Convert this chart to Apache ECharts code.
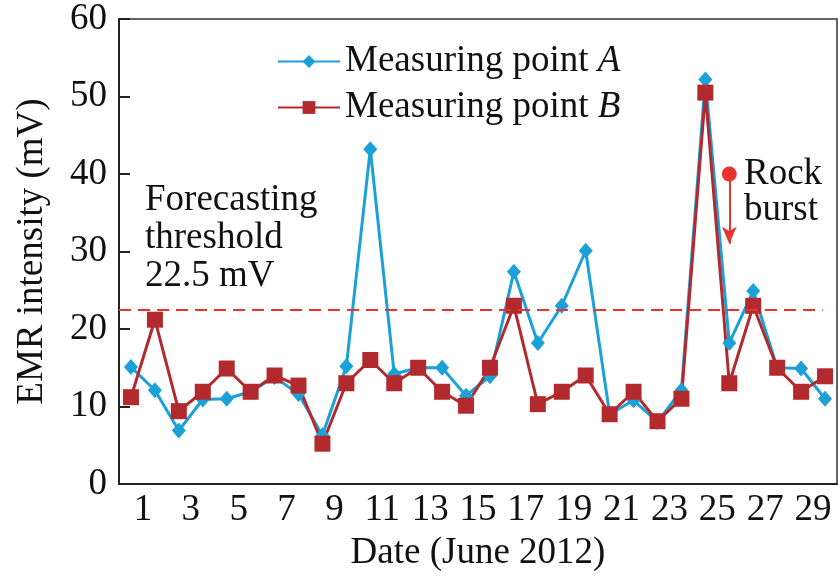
<!DOCTYPE html>
<html>
<head>
<meta charset="utf-8">
<script src="https://cdn.jsdelivr.net/npm/echarts@6/dist/echarts.min.js"></script>
<style>
  html, body { margin: 0; padding: 0; background: #fff; }
  #chart { width: 838px; height: 577px; }
</style>
</head>
<body>
<div id="chart"></div>
<script>
// EMR readings, June 2012 (one value per day)
const days = [1, 2, 3, 4, 5, 6, 7, 8, 9, 10, 11, 12, 13, 14, 15,
  16, 17, 18, 19, 20, 21, 22, 23, 24, 25, 26, 27, 28, 29, 30]
const pointA = [15.1, 12.1, 6.9, 10.9, 11.0, 11.9, 13.8, 11.6, 6.3, 15.2, 43.2, 14.2, 15.0, 15.0, 11.4,
  13.9, 27.4, 18.2, 23.0, 30.1, 9.0, 10.8, 8.0, 12.1, 52.2, 18.2, 24.9, 15.0, 14.9, 11.0]
const pointB = [11.2, 21.2, 9.4, 11.9, 14.9, 11.9, 14.0, 12.7, 5.2, 13.0, 16.0, 13.0, 15.0, 11.9, 10.1,
  15.0, 23.0, 10.3, 11.9, 14.0, 9.0, 11.9, 8.1, 11.0, 50.5, 13.0, 23.0, 15.0, 11.9, 13.9]
const dateLabels = ['1', '3', '5', '7', '9', '11', '13', '15', '17', '19', '21', '23', '25', '27', '29']
const threshold = 22.5
const burstDay = 26
const burstFrom = 40
const burstTo = 31

const FONT = 'Liberation Serif'
const BLUE = '#1ca0d8'
const RED = '#b32a2e'
const BRIGHT_RED = '#e8332f'

const chart = echarts.init(document.getElementById('chart'))

const option = {
  animation: false,
  textStyle: { fontFamily: FONT, color: '#111' },
  grid: {
    left: 119, right: 1, top: 19, bottom: 91,
    show: true, borderColor: '#333', borderWidth: 1.5
  },
  legend: {
    orient: 'vertical',
    left: 272, top: 38,
    itemWidth: 62, itemHeight: 16, itemGap: 9,
    textStyle: {
      fontFamily: FONT, fontSize: 37, color: '#111',
      rich: { i: { fontFamily: FONT, fontSize: 37, fontStyle: 'italic', color: '#111' } }
    },
    formatter: name => name.replace(/ ([AB])$/, ' {i|$1}'),
    data: ['Measuring point A', 'Measuring point B']
  },
  xAxis: [
    {
      type: 'value', min: 0.5, max: 30.5, show: false
    },
    {
      type: 'category', data: dateLabels, boundaryGap: true, position: 'bottom',
      name: 'Date (June 2012)', nameLocation: 'middle', nameGap: 51,
      nameTextStyle: { fontFamily: FONT, fontSize: 37, color: '#111' },
      axisLine: { lineStyle: { color: '#222', width: 2 } },
      axisTick: { inside: true, length: 11, lineStyle: { color: '#222', width: 2 } },
      axisLabel: { fontFamily: FONT, fontSize: 37, color: '#111', margin: 8, interval: 0 },
      splitLine: { show: false }
    }
  ],
  yAxis: {
    type: 'value', min: 0, max: 60, interval: 10,
    name: 'EMR intensity (mV)', nameLocation: 'middle', nameGap: 68,
    nameTextStyle: { fontFamily: FONT, fontSize: 37, color: '#111' },
    axisLine: { show: true, lineStyle: { color: '#222', width: 2 } },
    axisTick: { show: true, inside: true, length: 11, lineStyle: { color: '#222', width: 2 } },
    axisLabel: { fontFamily: FONT, fontSize: 37, color: '#111', margin: 12 },
    splitLine: { show: false }
  },
  series: [
    {
      name: 'Measuring point A', type: 'line', xAxisIndex: 0,
      data: days.map((d, i) => [d, pointA[i]]),
      symbol: 'diamond', symbolSize: [14, 16],
      lineStyle: { color: BLUE, width: 3 },
      itemStyle: { color: BLUE },
      markLine: {
        silent: true, symbol: ['none', 'none'], label: { show: false },
        lineStyle: { color: BRIGHT_RED, type: [12, 7], width: 2 },
        data: [[{ coord: [0.5, threshold] }, { coord: [29.9, threshold] }]]
      }
    },
    {
      name: 'Measuring point B', type: 'line', xAxisIndex: 0,
      data: days.map((d, i) => [d, pointB[i]]),
      symbol: 'rect', symbolSize: 16,
      lineStyle: { color: RED, width: 3 },
      itemStyle: { color: RED },
      markLine: {
        silent: true, label: { show: false },
        lineStyle: { color: BRIGHT_RED, type: 'solid', width: 2 },
        data: [[
          { coord: [burstDay, burstFrom], symbol: 'circle', symbolSize: 15 },
          { coord: [burstDay, burstTo], symbol: 'arrow', symbolSize: [11, 17] }
        ]]
      }
    }
  ],
  graphic: [
    {
      type: 'text', left: 145, top: 181,
      style: {
        text: 'Forecasting\nthreshold\n22.5 mV',
        font: '37px "Liberation Serif"', lineHeight: 38, fill: '#111'
      }
    },
    {
      type: 'text', left: 744, top: 156,
      style: {
        text: 'Rock\nburst',
        font: '37px "Liberation Serif"', lineHeight: 36, fill: '#111'
      }
    }
  ]
}

chart.setOption(option)
</script>
</body>
</html>
